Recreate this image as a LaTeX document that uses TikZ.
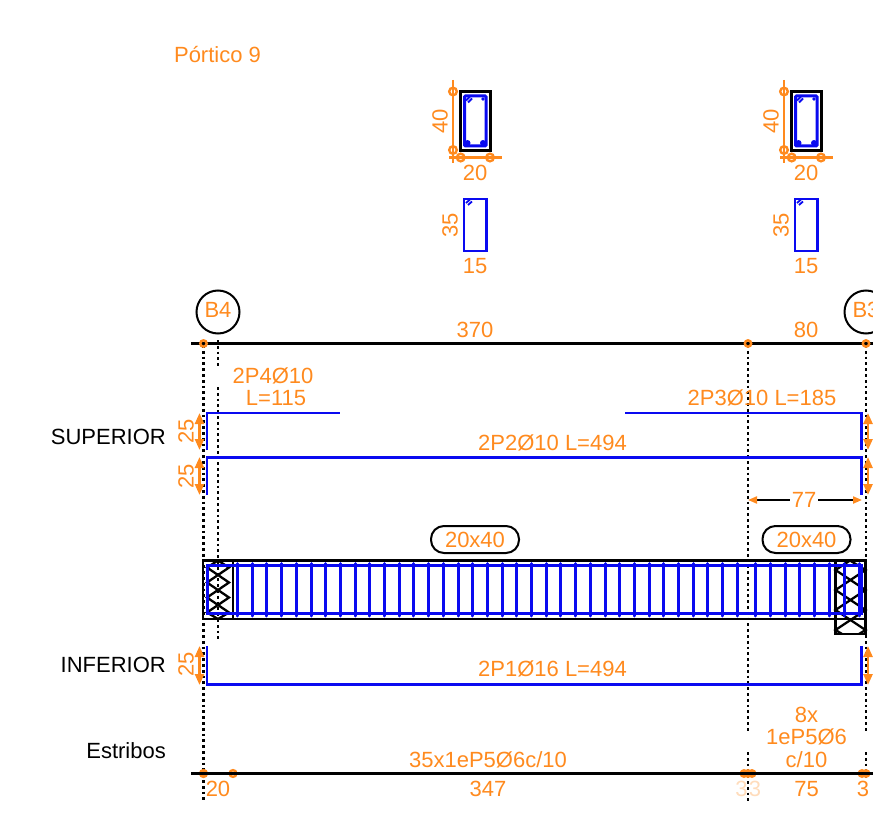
\documentclass[tikz,border=0pt]{standalone}
\usepackage{fontspec}
\setmainfont{Liberation Sans}
\usetikzlibrary{arrows.meta}
\definecolor{dimorange}{HTML}{FF8A1E}
\definecolor{barblue}{HTML}{0A0AF0}
\tikzset{
	lbl/.style={text=dimorange, font=\fontsize{22}{24}\selectfont, inner sep=0pt},
	blk/.style={text=black, font=\fontsize{22}{24}\selectfont, inner sep=0pt},
	bar/.style={barblue, line width=2.7},
	stirrup/.style={barblue, line width=3, line cap=round},
	dim/.style={dimorange, line width=2.4, {Triangle[length=11, width=9]}-{Triangle[length=11, width=9]}},
	dimring/.style={dimorange, line width=2.4},
	axisline/.style={black, line width=2.5},
	dots/.style={black, line width=2.7, dash pattern=on 2.7 off 3.1},
	hatch/.style={black, line width=2.3},
	pill/.style={draw=black, line width=2, rounded corners=13, minimum width=88, minimum height=27, text=dimorange, font=\fontsize{22}{24}\selectfont, inner sep=0pt}
}
\begin{document}
\begin{tikzpicture}[x=1pt, y=-1pt]
		\path[use as bounding box, clip] (0, 0) rectangle (873, 832);
		\node[lbl] (title) at (217.5, 55) {Pórtico 9};

		\draw[dimring] (453, 80) -- (453, 163);
		\draw[dimring] (449, 157.5) -- (502, 157.5);
		\draw[dimring] (453, 91.5) circle (3.8);
		\draw[dimring] (453, 150) circle (3.8);
		\draw[dimring] (460.7, 157.5) circle (3.8);
		\draw[dimring] (490, 157.5) circle (3.8);
		\draw[black, line width=2.6] (460.7, 91.7) rectangle (490.3, 150.5);
		\draw[bar, line width=3, rounded corners=1] (464.5, 96) rectangle (486, 146);
		\draw[bar, line width=1.8] (466, 100.5) -- (470, 96.5);
		\draw[bar, line width=1.8] (468, 102.5) -- (472, 98.5);
		\fill[barblue] (467.5, 143) circle (3);
		\fill[barblue] (483, 143) circle (3);
		\fill[barblue] (483, 99) circle (1.8);
		\node[lbl, rotate=90] (hA) at (440, 121) {40};
		\node[lbl] (wA) at (475, 173) {20};
		\draw[bar] (464, 199) rectangle (486.5, 251);
		\draw[bar, line width=1.8] (466, 203) -- (470, 199.5);
		\draw[bar, line width=1.8] (468, 205) -- (472, 201.5);
		\node[lbl, rotate=90] (hB) at (450, 225) {35};
		\node[lbl] (wB) at (475, 266) {15};

		\draw[dimring] (784, 80) -- (784, 163);
		\draw[dimring] (780, 157.5) -- (833, 157.5);
		\draw[dimring] (784, 91.5) circle (3.8);
		\draw[dimring] (784, 150) circle (3.8);
		\draw[dimring] (791.7, 157.5) circle (3.8);
		\draw[dimring] (821, 157.5) circle (3.8);
		\draw[black, line width=2.6] (791.7, 91.7) rectangle (821.3, 150.5);
		\draw[bar, line width=3, rounded corners=1] (795.5, 96) rectangle (817, 146);
		\draw[bar, line width=1.8] (797, 100.5) -- (801, 96.5);
		\draw[bar, line width=1.8] (799, 102.5) -- (803, 98.5);
		\fill[barblue] (798.5, 143) circle (3);
		\fill[barblue] (814, 143) circle (3);
		\fill[barblue] (814, 99) circle (1.8);
		\node[lbl, rotate=90] (hC) at (771, 121) {40};
		\node[lbl] (wC) at (806, 173) {20};
		\draw[bar] (795, 199) rectangle (817.5, 251);
		\draw[bar, line width=1.8] (797, 203) -- (801, 199.5);
		\draw[bar, line width=1.8] (799, 205) -- (803, 201.5);
		\node[lbl, rotate=90] (hD) at (781, 225) {35};
		\node[lbl] (wD) at (806, 266) {15};

		\draw[black, line width=2] (218, 312) circle (21.5);
		\draw[black, line width=2] (866, 312) circle (21.5);
		\node[lbl] (axisA) at (218, 310) {B4};
		\node[lbl] (axisB) at (866, 310) {B3};

		\draw[dots] (203.5, 345) -- (203.5, 800);
		\draw[dots] (218, 340) -- (218, 368);
		\draw[dots] (218, 387) -- (218, 640);
		\draw[dots] (748, 345) -- (748, 731);
		\draw[dots] (748, 752) -- (748, 802);
		\draw[dots] (866, 345) -- (866, 731);
		\draw[dots] (866, 752) -- (866, 780);

		\draw[axisline] (191, 343.5) -- (873, 343.5);
		\draw[dimring] (203.5, 343.5) circle (3.2);
		\draw[dimring] (748, 343.5) circle (3.2);
		\draw[dimring] (866, 343.5) circle (3.2);
		\node[lbl] (spanA) at (475, 330) {370};
		\node[lbl] (spanB) at (806, 330) {80};

		\node[lbl] (topA) at (273, 376) {2P4Ø10};
		\node[lbl] (topB) at (276, 398) {L=115};
		\node[lbl] (topC) at (762, 398) {2P3Ø10 L=185};
		\node[lbl] (topD) at (552.5, 443) {2P2Ø10 L=494};
		\draw[bar] (207, 450) -- (207, 413) -- (340, 413);
		\draw[bar] (625, 413) -- (861.5, 413) -- (861.5, 450);
		\draw[bar] (207, 495) -- (207, 457.5) -- (861.5, 457.5) -- (861.5, 495);
		\draw[dim] (199.5, 413) -- (199.5, 450);
		\draw[dim] (199.5, 457) -- (199.5, 495);
		\draw[dim] (868, 413) -- (868, 450);
		\draw[dim] (868, 457) -- (868, 495);
		\node[lbl, rotate=90] (capA) at (186, 431) {25};
		\node[lbl, rotate=90] (capB) at (186, 476) {25};
		\node[blk, anchor=east] (sup) at (166, 437) {SUPERIOR};

		\coordinate (extA) at (748, 500);
		\coordinate (extB) at (862, 500);
		\node[lbl] (ext) at (804, 500) {77};
		\draw[black, line width=2, {Triangle[length=9, width=7, color=dimorange]}-] (extA) -- ([xshift=-2]ext.west);
		\draw[black, line width=2, -{Triangle[length=9, width=7, color=dimorange]}] ([xshift=2]ext.east) -- (extB);

		\node[pill] (secA) at (475, 539.5) {20x40};
		\node[pill] (secB) at (806.5, 539.5) {20x40};

		\draw[black, line width=2.5] (203, 560.5) rectangle (866, 619);
		\draw[black, line width=2.5] (203, 560.5) rectangle (233, 619);
		\draw[black, line width=2.5] (835.5, 560.5) rectangle (865.5, 634);
		\draw[hatch] (218, 560.5) -- (207, 567.5) -- (229, 582.5) -- (207, 597.5) -- (229, 612.5) -- (218, 619);
		\draw[hatch] (218, 560.5) -- (229, 567.5) -- (207, 582.5) -- (229, 597.5) -- (207, 612.5) -- (218, 619);
		\draw[hatch] (850, 560.5) -- (835.5, 570) -- (865.5, 590) -- (835.5, 610) -- (865.5, 630) -- (859, 634);
		\draw[hatch] (850, 560.5) -- (865.5, 570) -- (835.5, 590) -- (865.5, 610) -- (835.5, 630) -- (842, 634);

		\draw[bar, line width=3] (207, 565) rectangle (861.5, 613.5);
		\draw[stirrup] (237.5, 563.5) -- (237.5, 616);
		\draw[stirrup] (252.2, 563.5) -- (252.2, 616);
		\draw[stirrup] (266.9, 563.5) -- (266.9, 616);
		\draw[stirrup] (281.6, 563.5) -- (281.6, 616);
		\draw[stirrup] (296.3, 563.5) -- (296.3, 616);
		\draw[stirrup] (311, 563.5) -- (311, 616);
		\draw[stirrup] (325.7, 563.5) -- (325.7, 616);
		\draw[stirrup] (340.4, 563.5) -- (340.4, 616);
		\draw[stirrup] (355.1, 563.5) -- (355.1, 616);
		\draw[stirrup] (369.8, 563.5) -- (369.8, 616);
		\draw[stirrup] (384.5, 563.5) -- (384.5, 616);
		\draw[stirrup] (399.2, 563.5) -- (399.2, 616);
		\draw[stirrup] (413.9, 563.5) -- (413.9, 616);
		\draw[stirrup] (428.6, 563.5) -- (428.6, 616);
		\draw[stirrup] (443.3, 563.5) -- (443.3, 616);
		\draw[stirrup] (458, 563.5) -- (458, 616);
		\draw[stirrup] (472.7, 563.5) -- (472.7, 616);
		\draw[stirrup] (487.4, 563.5) -- (487.4, 616);
		\draw[stirrup] (502.1, 563.5) -- (502.1, 616);
		\draw[stirrup] (516.8, 563.5) -- (516.8, 616);
		\draw[stirrup] (531.5, 563.5) -- (531.5, 616);
		\draw[stirrup] (546.2, 563.5) -- (546.2, 616);
		\draw[stirrup] (560.9, 563.5) -- (560.9, 616);
		\draw[stirrup] (575.6, 563.5) -- (575.6, 616);
		\draw[stirrup] (590.3, 563.5) -- (590.3, 616);
		\draw[stirrup] (605, 563.5) -- (605, 616);
		\draw[stirrup] (619.7, 563.5) -- (619.7, 616);
		\draw[stirrup] (634.4, 563.5) -- (634.4, 616);
		\draw[stirrup] (649.1, 563.5) -- (649.1, 616);
		\draw[stirrup] (663.8, 563.5) -- (663.8, 616);
		\draw[stirrup] (678.5, 563.5) -- (678.5, 616);
		\draw[stirrup] (693.2, 563.5) -- (693.2, 616);
		\draw[stirrup] (707.9, 563.5) -- (707.9, 616);
		\draw[stirrup] (722.6, 563.5) -- (722.6, 616);
		\draw[stirrup] (737.3, 563.5) -- (737.3, 616);
		\draw[stirrup] (755, 563.5) -- (755, 616);
		\draw[stirrup] (770, 563.5) -- (770, 616);
		\draw[stirrup] (785, 563.5) -- (785, 616);
		\draw[stirrup] (799.5, 563.5) -- (799.5, 616);
		\draw[stirrup] (814.5, 563.5) -- (814.5, 616);
		\draw[stirrup] (829, 563.5) -- (829, 616);
		\draw[stirrup] (844, 563.5) -- (844, 616);
		\draw[stirrup] (859, 563.5) -- (859, 616);

		\draw[bar] (207, 646) -- (207, 684.5) -- (861.5, 684.5) -- (861.5, 646);
		\draw[dim] (199.5, 646) -- (199.5, 685);
		\draw[dim] (868, 646) -- (868, 685);
		\node[lbl, rotate=90] (capC) at (186, 664) {25};
		\node[lbl] (botA) at (552.5, 669) {2P1Ø16 L=494};
		\node[blk, anchor=east] (inf) at (166, 665) {INFERIOR};
		\node[blk, anchor=east] (est) at (166, 751) {Estribos};

		\node[lbl] (stA) at (488, 760) {35x1eP5Ø6c/10};
		\node[lbl] (stB) at (806.5, 715) {8x};
		\node[lbl] (stC) at (806.5, 737) {1eP5Ø6};
		\node[lbl] (stD) at (806.5, 760) {c/10};
		\draw[dimring, fill=dimorange] (203.5, 773.5) circle (3.4);
		\draw[dimring] (233, 773.5) circle (3.4);
		\draw[dimring, fill=dimorange] (744, 773.5) circle (3.2);
		\draw[dimring, fill=dimorange] (748, 773.5) circle (3.2);
		\draw[dimring, fill=dimorange] (752, 773.5) circle (3.2);
		\draw[dimring, fill=dimorange] (862, 773.5) circle (3.2);
		\draw[dimring, fill=dimorange] (866, 773.5) circle (3.2);
		\draw[axisline] (191, 773.5) -- (873, 773.5);
		\node[lbl] (stE) at (218, 789) {20};
		\node[lbl] (stF) at (488, 789) {347};
		\node[lbl, opacity=0.3] (stG) at (741.5, 789) {3};
		\node[lbl, opacity=0.3] (stH) at (755, 789) {3};
		\node[lbl] (stI) at (806.5, 789) {75};
		\node[lbl] (stJ) at (863, 789) {3};
	\end{tikzpicture}
\end{document}
